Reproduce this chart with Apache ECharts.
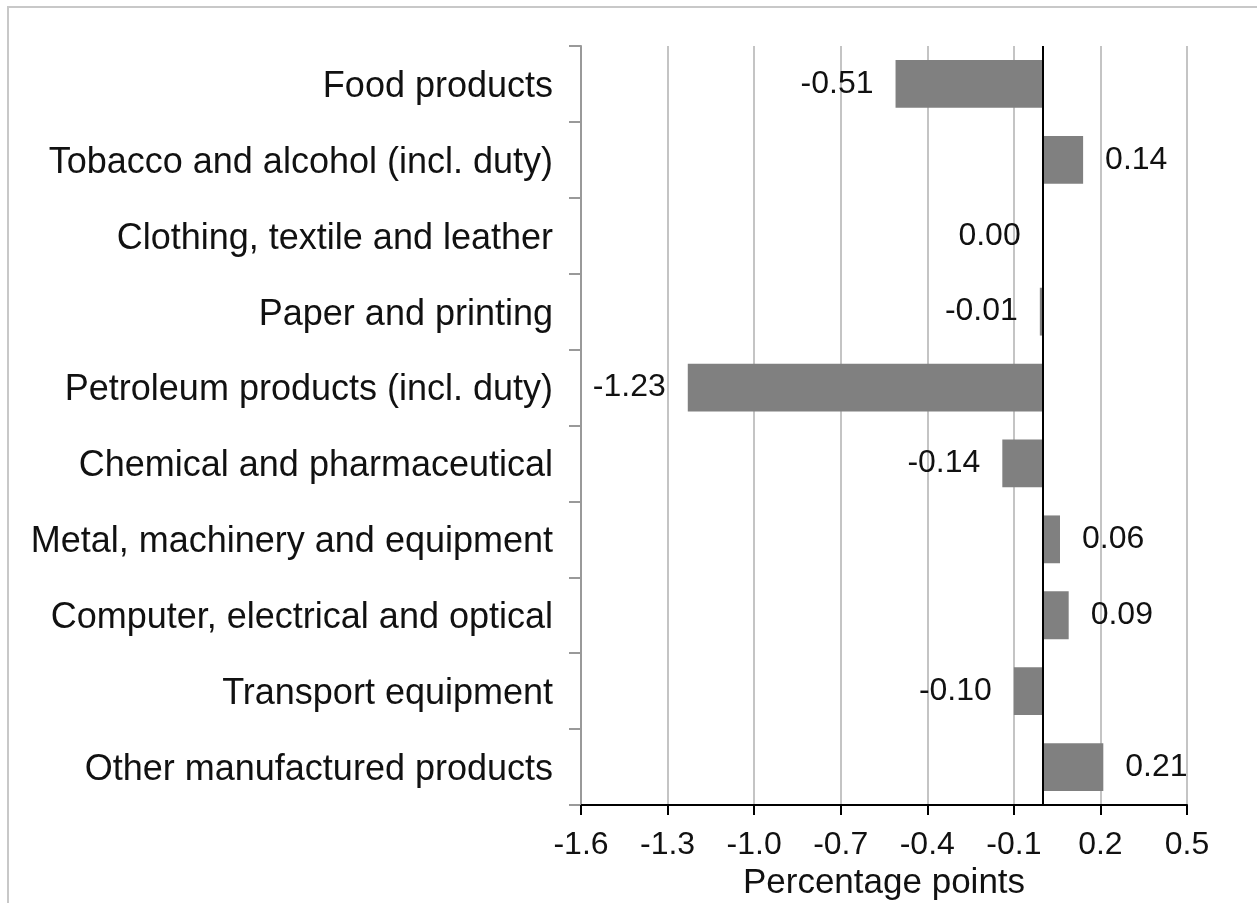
<!DOCTYPE html>
<html>
<head>
<meta charset="utf-8">
<title>Percentage points</title>
<script src="https://cdn.jsdelivr.net/npm/echarts@6/dist/echarts.min.js"></script>
<style>
  html, body {
    margin: 0;
    padding: 0;
    background: #fff;
  }
  #chart {
    width: 1257px;
    height: 903px;
  }
</style>
</head>
<body>
<div id="chart"></div>
<script>
// categories top to bottom
const categories = [
  'Food products',
  'Tobacco and alcohol (incl. duty)',
  'Clothing, textile and leather',
  'Paper and printing',
  'Petroleum products (incl. duty)',
  'Chemical and pharmaceutical',
  'Metal, machinery and equipment',
  'Computer, electrical and optical',
  'Transport equipment',
  'Other manufactured products'
];
const values = [-0.51, 0.14, 0.00, -0.01, -1.23, -0.14, 0.06, 0.09, -0.10, 0.21];
const xTicks = [-1.6, -1.3, -1.0, -0.7, -0.4, -0.1, 0.2, 0.5];

const font = '"Liberation Sans", Arial, sans-serif';

let chart = echarts.init(document.getElementById('chart'));

let option = {
  animation: false,
  textStyle: {fontFamily: font},
  graphic: [
    {
      type: 'rect',
      shape: {x: 8, y: 7, width: 1400, height: 1000},
      style: {fill: 'none', stroke: '#c8c8c8', lineWidth: 2},
      silent: true
    }
  ],
  grid: {left: 581, right: 70, top: 46, bottom: 98, containLabel: false, outerBoundsMode: 'none'},
  xAxis: {
    type: 'value',
    min: xTicks[0],
    max: xTicks[xTicks.length - 1],
    interval: 0.3,
    name: 'Percentage points',
    nameLocation: 'middle',
    nameGap: 58,
    nameTextStyle: {fontSize: 35, color: '#111', fontFamily: font},
    axisLine: {show: true, lineStyle: {color: '#000', width: 2}},
    axisTick: {show: true, length: 10, lineStyle: {color: '#000', width: 2}},
    axisLabel: {
      fontSize: 32,
      color: '#111',
      margin: 24,
      formatter: v => v.toFixed(1)
    },
    splitLine: {show: true, lineStyle: {color: '#c4c4c4', width: 2}}
  },
  yAxis: {
    type: 'category',
    data: categories,
    inverse: true,
    axisLine: {show: true, onZero: false, lineStyle: {color: '#999', width: 2}},
    axisTick: {show: true, length: 12, lineStyle: {color: '#999', width: 2}},
    axisLabel: {
      color: '#111',
      margin: 28,
      formatter: v => '{c|' + v + '}',
      rich: {
        c: {fontSize: 36, color: '#111', fontFamily: font, padding: [6, 0, 0, 0]}
      }
    },
    splitLine: {show: false}
  },
  series: [
    {
      type: 'bar',
      data: values.map(v => ({
        value: v,
        label: {position: v > 0 ? 'right' : 'left'}
      })),
      barCategoryGap: '37%',
      itemStyle: {color: '#808080'},
      label: {
        show: true,
        distance: 22,
        fontSize: 32,
        color: '#111',
        formatter: p => p.value.toFixed(2)
      },
      markLine: {
        silent: true,
        symbol: 'none',
        label: {show: false},
        lineStyle: {color: '#000', width: 2, type: 'solid'},
        data: [{xAxis: 0}]
      }
    }
  ]
};

chart.setOption(option);
</script>
</body>
</html>
